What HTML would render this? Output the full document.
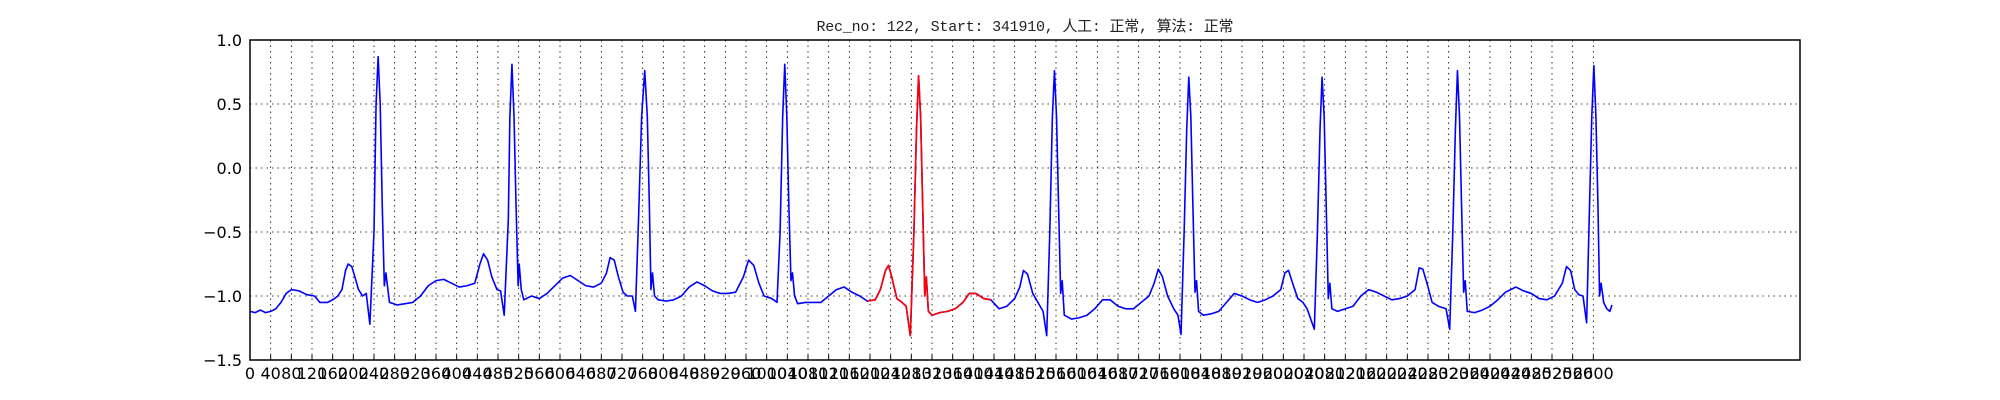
<!DOCTYPE html>
<html><head><meta charset="utf-8"><style>
html,body{margin:0;padding:0;background:#fff;}
svg{display:block;}
</style></head><body>
<svg id="chart" width="2000" height="400" xmlns="http://www.w3.org/2000/svg">
<rect x="0" y="0" width="2000" height="400" fill="#fff"/>
<text x="1025" y="31" text-anchor="middle" font-family="Liberation Mono, WenQuanYi Zen Hei, monospace" font-size="15" fill="#222" textLength="417">Rec_no: 122, Start: 341910, 人工: 正常, 算法: 正常</text>
<g id="grid"></g>
<g id="series"></g>
<rect x="250" y="40" width="1550" height="320" fill="none" stroke="#000" stroke-width="1.5"/>
<g id="axes"></g>
</svg>
<script>
const xTicks = [];
for (let t = 0; t <= 2600; t += 40) xTicks.push(t);
const yTicks = [1.0, 0.5, 0.0, -0.5, -1.0, -1.5];
const yTickLabels = ["1.0", "0.5", "0.0", "\u22120.5", "\u22121.0", "\u22121.5"];
const redStart = 1192;
const redEnd = 1434;
const xs = [0,10,20,30,40,50,60,70,80,95,110,125,135,150,160,170,178,185,190,197,203,210,218,225,232,240,244,248,252,256,260,263,266,270,285,300,315,330,345,360,375,390,405,420,435,445,452,460,468,478,485,492,500,503,507,511,515,519,521,525,530,545,560,575,590,605,620,635,650,665,680,690,697,705,713,722,730,740,746,752,758,764,769,773,776,779,783,790,805,820,835,850,865,880,895,910,925,940,955,965,975,985,995,1010,1020,1026,1031,1035,1039,1043,1047,1050,1054,1060,1075,1090,1105,1120,1135,1150,1165,1180,1195,1210,1220,1230,1236,1242,1252,1262,1270,1278,1285,1290,1294,1298,1302,1306,1309,1313,1320,1335,1350,1365,1380,1392,1405,1420,1434,1450,1465,1480,1490,1497,1505,1515,1525,1535,1542,1548,1553,1557,1561,1565,1569,1572,1576,1590,1605,1620,1635,1650,1665,1680,1695,1710,1725,1740,1750,1758,1766,1776,1788,1796,1802,1808,1813,1817,1821,1825,1829,1832,1836,1845,1860,1875,1890,1905,1920,1935,1950,1965,1980,1995,2003,2010,2018,2028,2038,2046,2060,2066,2071,2075,2079,2083,2087,2090,2094,2105,2120,2135,2150,2165,2180,2195,2210,2225,2240,2255,2263,2270,2278,2288,2300,2315,2322,2328,2333,2337,2341,2345,2349,2352,2356,2370,2385,2400,2415,2430,2440,2450,2465,2480,2495,2510,2525,2540,2548,2556,2564,2572,2580,2587,2592,2597,2601,2605,2609,2612,2615,2620,2626,2632,2636];
const ys = [-1.12,-1.13,-1.11,-1.13,-1.12,-1.10,-1.05,-0.98,-0.95,-0.96,-0.99,-1.00,-1.05,-1.05,-1.03,-1.00,-0.95,-0.80,-0.75,-0.77,-0.85,-0.95,-1.00,-0.98,-1.22,-0.50,0.50,0.87,0.50,-0.30,-0.92,-0.82,-0.92,-1.05,-1.07,-1.06,-1.05,-1.00,-0.92,-0.88,-0.87,-0.90,-0.93,-0.92,-0.90,-0.75,-0.67,-0.72,-0.85,-0.95,-0.96,-1.15,-0.40,0.40,0.81,0.40,-0.30,-0.92,-0.75,-0.95,-1.03,-1.00,-1.02,-0.98,-0.92,-0.86,-0.84,-0.88,-0.92,-0.93,-0.90,-0.82,-0.70,-0.72,-0.85,-0.97,-1.00,-1.00,-1.12,-0.40,0.40,0.76,0.40,-0.30,-0.95,-0.82,-1.00,-1.03,-1.04,-1.03,-1.00,-0.93,-0.89,-0.92,-0.96,-0.98,-0.98,-0.97,-0.85,-0.72,-0.76,-0.90,-1.00,-1.02,-1.05,-0.50,0.40,0.81,0.40,-0.30,-0.88,-0.82,-1.00,-1.06,-1.05,-1.05,-1.05,-1.00,-0.95,-0.93,-0.97,-1.00,-1.04,-1.03,-0.95,-0.80,-0.76,-0.85,-1.02,-1.05,-1.08,-1.31,-0.50,0.30,0.72,0.40,-0.30,-1.00,-0.85,-1.12,-1.15,-1.13,-1.12,-1.10,-1.05,-0.98,-0.98,-1.02,-1.03,-1.10,-1.08,-1.02,-0.93,-0.80,-0.83,-0.98,-1.05,-1.12,-1.31,-0.50,0.40,0.76,0.40,-0.30,-0.98,-0.88,-1.15,-1.18,-1.17,-1.15,-1.10,-1.03,-1.03,-1.08,-1.10,-1.10,-1.05,-1.00,-0.90,-0.79,-0.85,-1.00,-1.10,-1.15,-1.30,-0.50,0.30,0.71,0.40,-0.30,-0.97,-0.88,-1.12,-1.15,-1.14,-1.12,-1.05,-0.98,-1.00,-1.03,-1.05,-1.03,-1.00,-0.95,-0.82,-0.80,-0.90,-1.02,-1.05,-1.10,-1.26,-0.50,0.30,0.71,0.40,-0.30,-1.02,-0.90,-1.10,-1.12,-1.10,-1.08,-1.00,-0.95,-0.97,-1.00,-1.03,-1.02,-1.00,-0.95,-0.78,-0.79,-0.90,-1.05,-1.08,-1.10,-1.26,-0.50,0.30,0.76,0.40,-0.30,-0.97,-0.88,-1.12,-1.13,-1.11,-1.08,-1.03,-0.97,-0.95,-0.93,-0.96,-0.98,-1.02,-1.03,-1.00,-0.90,-0.77,-0.80,-0.95,-0.99,-1.00,-1.21,-0.40,0.40,0.80,0.40,-0.30,-1.00,-0.90,-1.05,-1.10,-1.12,-1.07];

const NS = "http://www.w3.org/2000/svg";
const L = 250, R = 1800, T = 40, B = 360;
const xMin = 0, xMax = 3000, yMin = -1.5, yMax = 1.0;
function xScale(v){ return L + (v - xMin) / (xMax - xMin) * (R - L); }
function yScale(v){ return B - (v - yMin) / (yMax - yMin) * (B - T); }

const grid = document.getElementById('grid');
const axes = document.getElementById('axes');
const series = document.getElementById('series');

xTicks.forEach(t => {
  const x = xScale(t);
  const g = document.createElementNS(NS, 'line');
  g.setAttribute('x1', x); g.setAttribute('x2', x);
  g.setAttribute('y1', T); g.setAttribute('y2', B);
  g.setAttribute('stroke', '#000'); g.setAttribute('stroke-width', '0.8');
  g.setAttribute('stroke-dasharray', '1.5,4');
  
  
  grid.appendChild(g);
  const tk = document.createElementNS(NS, 'line');
  tk.setAttribute('x1', x); tk.setAttribute('x2', x);
  tk.setAttribute('y1', B); tk.setAttribute('y2', B - 5);
  tk.setAttribute('stroke', '#000');
  
  
  axes.appendChild(tk);
  const lb = document.createElementNS(NS, 'text');
  lb.setAttribute('x', x); lb.setAttribute('y', B + 19);
  lb.setAttribute('text-anchor', 'middle');
  lb.setAttribute('font-family', 'DejaVu Sans, Liberation Sans, sans-serif');
  lb.setAttribute('font-size', '16');
  lb.textContent = String(t);
  
  
  axes.appendChild(lb);
});

yTicks.forEach((t, i) => {
  const y = yScale(t);
  if (t > yMin && t < yMax) {
    const g = document.createElementNS(NS, 'line');
    g.setAttribute('x1', L); g.setAttribute('x2', R);
    g.setAttribute('y1', y); g.setAttribute('y2', y);
    g.setAttribute('stroke', '#000'); g.setAttribute('stroke-width', '0.8');
    g.setAttribute('stroke-dasharray', '1.5,4');
    
    
    grid.appendChild(g);
  }
  const lb = document.createElementNS(NS, 'text');
  lb.setAttribute('x', L - 8); lb.setAttribute('y', y + 6);
  lb.setAttribute('text-anchor', 'end');
  lb.setAttribute('font-family', 'DejaVu Sans, Liberation Sans, sans-serif');
  lb.setAttribute('font-size', '16');
  lb.textContent = yTickLabels[i];
  
  
  axes.appendChild(lb);
});

function addLine(pts, color, name){
  const p = document.createElementNS(NS, 'polyline');
  p.setAttribute('points', pts.map(q => xScale(q[0]).toFixed(2) + ',' + yScale(q[1]).toFixed(2)).join(' '));
  p.setAttribute('fill', 'none');
  p.setAttribute('stroke', color);
  p.setAttribute('stroke-width', '1.6');
  p.setAttribute('stroke-linejoin', 'round');
  
  
  series.appendChild(p);
}
const allPts = xs.map((x, i) => [x, ys[i]]);
addLine(allPts, '#0000ff', 'ecg-line-blue');
const redPts = allPts.filter(p => p[0] >= redStart && p[0] <= redEnd);
addLine(redPts, '#ff0000', 'ecg-line-red');
</script>
</body></html>
